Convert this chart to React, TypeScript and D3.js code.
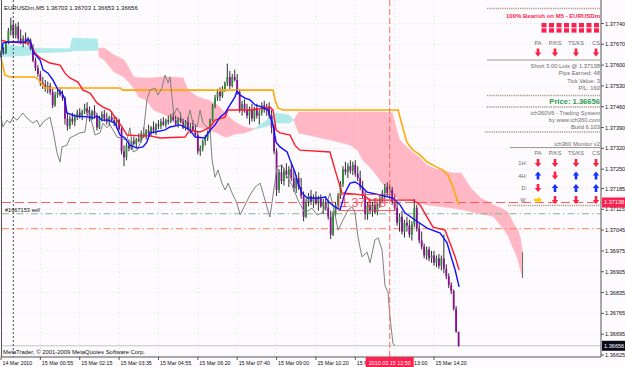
import React from 'react';
import * as d3 from 'd3';

// prices are stored in points above 1.36000 (price = 1.36 + v / 100000)
const PRICE_BASE = 1.36;

const candleOpen = [1635,1645,1640,1675,1715,1735,1700,1730,1690,1680,1690,1675,1685,1655,1615,1590,1570,1540,1535,1520,1530,1510,1465,1500,1510,1500,1490,1420,1395,1420,1410,1425,1440,1430,1445,1455,1440,1420,1445,1430,1390,1420,1435,1420,1410,1425,1415,1405,1415,1385,1310,1290,1330,1320,1345,1335,1350,1345,1370,1360,1380,1370,1390,1380,1400,1395,1410,1400,1415,1410,1425,1415,1400,1420,1410,1390,1410,1385,1395,1380,1365,1310,1320,1345,1355,1375,1415,1465,1490,1510,1495,1520,1540,1560,1530,1560,1550,1510,1450,1470,1450,1430,1450,1420,1455,1430,1440,1465,1450,1460,1430,1390,1310,1180,1240,1210,1245,1230,1250,1220,1185,1220,1190,1160,1090,1140,1160,1140,1155,1135,1150,1125,1140,1120,1090,1030,1100,1130,1160,1200,1250,1240,1260,1245,1265,1235,1220,1190,1160,1100,1130,1110,1130,1105,1135,1150,1170,1190,1170,1180,1140,1120,1070,1090,1040,1070,1060,1030,1065,1120,1050,1010,990,960,980,950,960,935,950,925,950,915,890,860,840,780,703];
const candleHigh = [1650,1660,1680,1725,1760,1750,1740,1745,1720,1700,1710,1695,1690,1670,1625,1600,1580,1560,1550,1545,1540,1520,1510,1520,1525,1515,1495,1440,1430,1440,1435,1450,1455,1450,1470,1475,1460,1450,1465,1440,1430,1445,1450,1440,1430,1445,1430,1425,1420,1390,1330,1340,1350,1355,1360,1355,1370,1380,1390,1385,1400,1395,1410,1405,1415,1420,1425,1420,1430,1435,1440,1430,1425,1440,1420,1415,1425,1405,1415,1400,1375,1330,1350,1365,1380,1420,1470,1500,1520,1525,1530,1545,1605,1580,1570,1585,1570,1520,1480,1485,1470,1460,1470,1460,1470,1450,1475,1480,1470,1475,1450,1400,1320,1250,1265,1255,1270,1260,1270,1245,1230,1240,1220,1175,1150,1170,1180,1165,1175,1160,1165,1150,1160,1145,1110,1110,1140,1170,1210,1260,1275,1270,1280,1275,1280,1260,1245,1210,1175,1140,1150,1140,1150,1140,1160,1180,1200,1205,1200,1190,1160,1140,1100,1110,1080,1090,1080,1075,1150,1130,1070,1040,1000,990,990,975,975,960,965,960,1030,930,900,870,845,790,703];
const candleLow = [1625,1635,1638,1670,1700,1690,1690,1680,1670,1660,1670,1665,1650,1610,1580,1560,1530,1520,1510,1505,1500,1455,1460,1490,1495,1480,1400,1380,1385,1400,1395,1415,1420,1415,1435,1430,1410,1415,1420,1380,1385,1410,1410,1400,1395,1410,1395,1390,1380,1300,1260,1280,1310,1315,1330,1320,1340,1340,1355,1350,1365,1360,1370,1365,1385,1385,1395,1390,1400,1405,1410,1395,1390,1405,1385,1380,1380,1370,1375,1360,1300,1295,1310,1330,1345,1370,1410,1455,1480,1480,1490,1510,1530,1520,1525,1545,1500,1440,1430,1440,1420,1400,1410,1410,1420,1400,1430,1440,1430,1420,1370,1300,1160,1170,1200,1195,1220,1190,1210,1175,1170,1180,1150,1075,1085,1125,1130,1120,1130,1110,1120,1100,1110,1080,1015,1025,1090,1120,1150,1190,1230,1220,1235,1230,1225,1210,1180,1150,1080,1080,1100,1090,1100,1095,1120,1140,1150,1160,1150,1130,1110,1060,1040,1030,1020,1040,1020,1010,1055,1040,1000,980,950,945,940,935,925,920,915,910,900,880,850,830,775,700,653];
const candleClose = [1645,1640,1675,1715,1735,1700,1730,1690,1680,1690,1675,1685,1655,1615,1590,1570,1540,1535,1520,1530,1510,1465,1500,1510,1500,1490,1420,1395,1420,1410,1425,1440,1430,1445,1455,1440,1420,1445,1430,1390,1420,1435,1420,1410,1425,1415,1405,1415,1385,1310,1290,1330,1320,1345,1335,1350,1345,1370,1360,1380,1370,1390,1380,1400,1395,1410,1400,1415,1410,1425,1415,1400,1420,1410,1390,1410,1385,1395,1380,1365,1310,1320,1345,1355,1375,1415,1465,1490,1510,1495,1520,1540,1560,1530,1560,1550,1510,1450,1470,1450,1430,1450,1420,1455,1430,1440,1465,1450,1460,1430,1390,1310,1180,1240,1210,1245,1230,1250,1220,1185,1220,1190,1160,1090,1140,1160,1140,1155,1135,1150,1125,1140,1120,1090,1030,1100,1130,1160,1200,1250,1240,1260,1245,1265,1235,1220,1190,1160,1100,1130,1110,1130,1105,1135,1150,1170,1190,1170,1180,1140,1120,1070,1090,1040,1070,1060,1030,1065,1120,1050,1010,990,960,980,950,960,935,950,925,950,915,890,860,840,780,703,656];

// indicator lines, read as [bar index, points]
const redLine: [number, number][] = [[0,1684],[2.8,1678],[11.8,1674],[13.8,1641],[15.9,1624],[19.9,1607],[24,1600],[26,1573],[28,1557],[31.3,1543],[33.3,1516],[36.2,1506],[39,1473],[41.5,1459],[44.3,1449],[47.2,1415],[49.2,1392],[51.2,1365],[56.5,1362],[60.6,1362],[64.6,1355],[74.8,1358],[76.8,1382],[80.9,1375],[82.9,1382],[85,1392],[87,1415],[91,1425],[92.3,1449],[101.2,1449],[107.3,1456],[109.3,1459],[110.6,1449],[111.8,1382],[113.4,1372],[117.5,1365],[119.5,1330],[121.5,1314],[133.7,1308],[135.8,1247],[138.6,1170],[147.2,1163],[150,1146],[167.5,1146],[170.3,1130],[173.2,1089],[175.6,1055],[180.5,1045],[182.5,1002],[184.6,955],[186.2,911]];
const blueLine: [number, number][] = [[0,1627],[0.8,1674],[2.8,1678],[9.8,1678],[11,1688],[12.2,1674],[13,1644],[15.9,1617],[17.1,1584],[19.1,1573],[21.1,1550],[23.2,1516],[24.8,1506],[26,1483],[26.8,1439],[30.1,1429],[36.2,1425],[37.4,1422],[39,1429],[41.1,1415],[43.5,1415],[46.3,1405],[48.4,1365],[50.4,1355],[52.4,1331],[55.3,1321],[57.7,1325],[59.3,1341],[60.6,1372],[62.6,1375],[66.7,1382],[68.7,1392],[72.8,1399],[76.8,1382],[78.9,1358],[82.9,1355],[85,1382],[87,1399],[89,1425],[91.1,1439],[93.1,1466],[95.1,1493],[95.9,1513],[97.2,1499],[99.2,1489],[101.2,1483],[103.3,1466],[106.1,1459],[108.5,1449],[110.6,1399],[111.8,1341],[113.4,1325],[116.3,1308],[117.5,1281],[119.5,1240],[120.7,1203],[122.4,1170],[124.4,1153],[129.7,1153],[131.7,1156],[133.7,1136],[135.8,1123],[137.8,1113],[139.8,1170],[141.9,1203],[143.9,1207],[145.9,1197],[148.8,1173],[154.1,1163],[159.3,1153],[162.2,1130],[164.2,1103],[168.3,1079],[173.2,1052],[178.5,1035],[181.3,1002],[182.5,968],[184.6,911],[186.2,854]];
const laggingLine: [number, number][] = [[0,1425],[0.8,1392],[2.4,1415],[3.7,1405],[4.9,1425],[6.5,1415],[8.9,1439],[10.6,1422],[13,1405],[14.6,1415],[15.9,1392],[17.1,1409],[19.9,1425],[21.1,1382],[22.8,1304],[24,1274],[24.8,1325],[26.8,1331],[28,1355],[32.1,1372],[34.1,1375],[35.4,1449],[37,1405],[38.2,1365],[40.2,1372],[41.5,1405],[43.1,1389],[44.3,1399],[45.5,1382],[47.2,1358],[51.2,1348],[52.4,1389],[53.7,1308],[55.3,1314],[57.7,1358],[59.3,1483],[60.6,1516],[62.6,1523],[63.8,1499],[65.4,1523],[66.7,1567],[67.9,1540],[68.7,1560],[69.5,1493],[70.3,1432],[71.5,1456],[72.8,1439],[74,1392],[75.6,1405],[76.8,1449],[78,1405],[79.7,1392],[80.9,1449],[82.1,1405],[83.7,1392],[85,1382],[85.8,1281],[87,1223],[88.2,1247],[89.8,1203],[91.1,1180],[92.3,1203],[93.9,1170],[95.9,1136],[97.2,1096],[99.2,1130],[101.2,1163],[103.3,1190],[105.3,1203],[106.5,1170],[108.1,1123],[109.3,1089],[110.6,1163],[112.2,1257],[114.2,1264],[116.3,1224],[118.3,1197],[120.7,1146],[123.6,1103],[126.4,1119],[128.5,1096],[130.5,1103],[132.5,1136],[133.7,1170],[135.8,1096],[137,1045],[139,1079],[141.1,1113],[142.7,1123],[143.9,1103],[145.1,1022],[146.7,955],[148.8,971],[150,935],[152,1012],[153.3,1019],[154.9,978],[156.1,857],[157.3,837],[158.1,753],[159.3,665],[160,656]];
const orangeLine: [number, number][] = [[0,1624],[1.6,1567],[3.7,1560],[13.8,1560],[15,1553],[16.3,1540],[17.9,1523],[48.4,1523],[49.6,1516],[110.6,1516],[111.4,1483],[112.6,1456],[114.6,1449],[161.4,1449],[163,1399],[165,1340],[167.5,1314],[170.3,1298],[173.2,1274],[177.2,1257],[179.7,1247],[181.7,1230],[183.7,1190],[185.8,1136],[186.4,1130]];
// cloud: [bar, span A, span B]
const cloud: [number, number, number][] = [[0,1668,1627],[12,1661,1634],[14,1657,1641],[28,1655,1645],[29,1691,1648],[39,1688,1650],[40,1627,1657],[42,1617,1657],[46,1577,1634],[50,1560,1617],[54,1523,1560],[56,1493,1557],[59,1483,1557],[62,1449,1557],[65,1439,1560],[69,1425,1560],[74,1412,1557],[76,1405,1516],[80,1392,1493],[84,1382,1483],[88,1372,1466],[90,1362,1449],[92,1358,1432],[95,1368,1409],[99,1372,1392],[103,1385,1385],[107,1409,1392],[112,1439,1405],[117,1432,1405],[119,1415,1415],[121,1372,1442],[134,1348,1442],[142,1331,1442],[145,1314,1442],[147,1281,1442],[151,1247,1442],[155,1203,1442],[159,1170,1439],[162,1146,1348],[167,1146,1308],[170,1136,1290],[173,1130,1264],[177,1126,1250],[184,1119,1237],[187,1115,1237],[191,1107,1186],[195,1099,1153],[200,1092,1130],[203,1062,1120],[206,1029,1106],[208,988,1072],[210,951,1045],[211,918,1022],[212,884,971]];

const priceTicks = [1.3774,1.3767,1.376,1.3753,1.3746,1.3739,1.3732,1.3725,1.37185,1.37115,1.37045,1.36975,1.36905,1.36835,1.36765,1.36695,1.36625];
const timeTickBars = [0,16,32,48,64,80,96,112,128,144,160,176];
const timeTickLabels = ['14 Mar 2010','15 Mar 00:55','15 Mar 02:15','15 Mar 03:35','15 Mar 04:55','15 Mar 06:20','15 Mar 07:40','15 Mar 09:00','15 Mar 10:20','15 Mar 11:40','15 Mar 13:00','15 Mar 14:20'];

const orderPrice = 1.37138;
const tpPrice = 1.371;
const slPrice = 1.3705;
const bidPrice = 1.36656;
const markerBar = 5;
const cursorBar = 158;

const headSignals = ['d','d','d','d'];
const monitorRows = ['1H:','4H:','D:','W:'];
const monitorSignals = [['d','d','d','d'],['u','d','u','u'],['d','u','u','u'],['r','d','d','d']];
const signalCols = ['PA','P/KS','TS/KS','CS'];
const tradeInfo = ['Short 3.00 Lots @ 1.37138','Pips Earned: 48','Tick Value: 3','P/L: 160'];
const systemInfo = ['ich360V6 - Trading System','by www.ich360.com','Build 6.103'];

const FONT = '"Liberation Sans", Arial, sans-serif';

function Arrow({ cx, cy, dir }: { cx: number; cy: number; dir: string }) {
  const down = `M${cx - 1.3},${cy - 4}H${cx + 1.3}V${cy}H${cx + 3.2}L${cx},${cy + 4}L${cx - 3.2},${cy}H${cx - 1.3}Z`;
  const up = `M${cx - 1.3},${cy + 4}H${cx + 1.3}V${cy}H${cx + 3.2}L${cx},${cy - 4}L${cx - 3.2},${cy}H${cx - 1.3}Z`;
  const right = `M${cx - 4},${cy - 1.3}V${cy + 1.3}H${cx}V${cy + 3.2}L${cx + 4},${cy}L${cx},${cy - 3.2}V${cy - 1.3}Z`;
  const d = dir === 'd' ? down : dir === 'u' ? up : right;
  const fill = dir === 'd' ? '#ff1f40' : dir === 'u' ? '#1530ff' : '#ffcc00';
  return <path d={d} fill={fill} />;
}

export default function App() {
  const W = 625, H = 367;
  const plotR = 601, plotB = 357;
  const x = d3.scaleLinear().domain([0, 186]).range([1, 458.6]);
  const y = d3.scaleLinear().domain([1.36625, 1.3774]).range([355, 23.5]);
  const pv = (v: number) => PRICE_BASE + v / 1e5;
  const line = d3.line<[number, number]>().x(d => x(d[0])).y(d => y(pv(d[1])));

  // cloud polygons
  const polys: { pts: [number, number][]; bull: boolean }[] = [];
  for (let i = 0; i < cloud.length - 1; i++) {
    const [b0, a0, s0] = cloud[i];
    const [b1, a1, s1] = cloud[i + 1];
    const d0 = a0 - s0, d1 = a1 - s1;
    if (d0 * d1 < 0) {
      const t = d0 / (d0 - d1);
      const bm = b0 + t * (b1 - b0);
      const vm = a0 + t * (a1 - a0);
      polys.push({ pts: [[b0, a0], [bm, vm], [b0, s0]], bull: d0 > 0 });
      polys.push({ pts: [[bm, vm], [b1, a1], [b1, s1]], bull: d1 > 0 });
    } else {
      polys.push({ pts: [[b0, a0], [b1, a1], [b1, s1], [b0, s0]], bull: d0 + d1 > 0 });
    }
  }
  const lastCloud = cloud[cloud.length - 1];

  const arrowX = [538, 555, 576, 596];
  const rowY = [163, 175.5, 188, 200];

  const dotted = { stroke: '#a89a8a', strokeWidth: 1.4, strokeDasharray: '1.2 1' };

  return (
    <svg width={W} height={H} style={{ position: 'fixed', left: 0, top: 0, background: '#fdfbfd' }} fontFamily={FONT}>
      <rect x={0} y={0} width={W} height={H} fill="#fdfbfd" />
      {/* grid */}
      <g stroke="#cfcfd4" strokeWidth={0.6} strokeDasharray="1 3">
        {priceTicks.map((p, i) => <line key={'gh' + i} x1={2} x2={plotR} y1={y(p)} y2={y(p)} />)}
        {timeTickBars.map((b, i) => <line key={'gv' + i} x1={x(b)} x2={x(b)} y1={0} y2={plotB} />)}
      </g>
      {/* cloud */}
      {polys.map((p, i) => (
        <polygon key={'c' + i} points={p.pts.map(d => `${x(d[0])},${y(pv(d[1]))}`).join(' ')} fill={p.bull ? '#aeeaea' : '#ffb7c5'} stroke={p.bull ? '#aeeaea' : '#ffb7c5'} strokeWidth={0.6} />
      ))}
      <line x1={x(lastCloud[0])} x2={x(lastCloud[0])} y1={y(pv(lastCloud[2]))} y2={y(pv(lastCloud[1]))} stroke="#6a6a6a" strokeWidth={1} />
      {/* horizontal levels */}
      <line x1={2} x2={plotR} y1={y(orderPrice)} y2={y(orderPrice)} stroke="#ff5a5a" strokeWidth={1} strokeDasharray="9 4" />
      <line x1={2} x2={plotR} y1={y(tpPrice)} y2={y(tpPrice)} stroke="#7fb88a" strokeWidth={1} strokeDasharray="7 3 1.5 3" />
      <line x1={2} x2={plotR} y1={y(slPrice)} y2={y(slPrice)} stroke="#ff8050" strokeWidth={1} strokeDasharray="7 3 1.5 3" />
      <line x1={2} x2={plotR} y1={y(bidPrice)} y2={y(bidPrice)} stroke="#b8b8b8" strokeWidth={0.8} />
      {/* candles */}
      {candleClose.map((c, i) => {
        const o = candleOpen[i];
        const cx = x(i);
        const yo = y(pv(o)), yc = y(pv(c));
        const top = Math.min(yo, yc), h = Math.max(0.8, Math.abs(yo - yc));
        return (
          <g key={'k' + i}>
            <line x1={cx} x2={cx} y1={y(pv(candleHigh[i]))} y2={y(pv(candleLow[i]))} stroke="#1a1a1a" strokeWidth={0.9} />
            <rect x={cx - 0.9} y={top} width={1.8} height={h} fill={c >= o ? '#2f8a3a' : '#8a1090'} />
          </g>
        );
      })}
      {/* indicator lines */}
      <path d={line(orangeLine) || ''} fill="none" stroke="#ffa200" strokeWidth={1.6} />
      <path d={line(orangeLine) || ''} fill="none" stroke="#ffd84a" strokeWidth={0.6} strokeDasharray="1 2" />
      <path d={line(laggingLine) || ''} fill="none" stroke="#808080" strokeWidth={1} />
      <path d={line(redLine) || ''} fill="none" stroke="#ff1a2a" strokeWidth={1.4} />
      <path d={line(blueLine) || ''} fill="none" stroke="#1010ff" strokeWidth={1.4} />
      {/* vertical lines */}
      <line x1={x(markerBar)} x2={x(markerBar)} y1={0} y2={plotB} stroke="#202020" strokeWidth={0.8} strokeDasharray="2 2" />
      <line x1={x(cursorBar)} x2={x(cursorBar)} y1={0} y2={plotB} stroke="#ff6a5a" strokeWidth={1} strokeDasharray="6 3" />
      {/* price label object */}
      <rect x={339} y={y(orderPrice) - 8} width={56} height={16} fill="none" stroke="#ff3a50" strokeWidth={0.8} />
      <text x={341} y={y(orderPrice) + 5} fontSize={12.5} fill="#ff3a55" fillOpacity={0.85}>{orderPrice.toFixed(5)}</text>
      {/* order label */}
      <text x={5} y={211.5} fontSize={5.6} fill="#111">#1667153 sell</text>
      {/* frame */}
      <line x1={1.5} x2={1.5} y1={0} y2={plotB} stroke="#555" strokeWidth={1} />
      <line x1={1.5} x2={plotR} y1={plotB} y2={plotB} stroke="#555" strokeWidth={1} />
      <line x1={plotR} x2={plotR} y1={0} y2={plotB} stroke="#555" strokeWidth={1} />
      {/* header */}
      <text x={4} y={9.5} fontSize={6} fill="#111">EURUSDm,M5  1.36703 1.36703 1.36653 1.36656</text>
      <text x={3} y={354} fontSize={5.9} fill="#111">MetaTrader, © 2001-2009 MetaQuotes Software Corp.</text>
      {/* price axis */}
      {priceTicks.map((p, i) => (
        <g key={'pt' + i}>
          <line x1={plotR} x2={plotR + 3} y1={y(p)} y2={y(p)} stroke="#333" strokeWidth={0.8} />
          <text x={605} y={y(p) + 2} fontSize={5.6} fill="#111">{p.toFixed(5)}</text>
        </g>
      ))}
      <rect x={602} y={y(orderPrice) - 5} width={23} height={10} fill="#ff2050" />
      <text x={604} y={y(orderPrice) + 2} fontSize={5.6} fill="#fff">{orderPrice.toFixed(5)}</text>
      <rect x={602} y={y(bidPrice) - 5} width={23} height={10} fill="#0a0a1a" />
      <text x={604} y={y(bidPrice) + 2} fontSize={5.6} fill="#fff">{bidPrice.toFixed(5)}</text>
      {/* time axis */}
      {timeTickBars.map((b, i) => (
        <g key={'tt' + i}>
          <line x1={x(b)} x2={x(b)} y1={plotB} y2={plotB + 3} stroke="#333" strokeWidth={0.8} />
          <text x={x(b) + 1.5} y={365} fontSize={5.3} fill="#111">{timeTickLabels[i]}</text>
        </g>
      ))}
      <rect x={x(cursorBar) - 24} y={plotB} width={48} height={10} fill="#ff2050" />
      <text x={x(cursorBar)} y={365} fontSize={5.4} fill="#fff" textAnchor="middle">2010.03.15 12:50</text>
      {/* right panel */}
      <line x1={487} x2={600} y1={8.5} y2={8.5} {...dotted} />
      <text x={600} y={18} fontSize={6} fontWeight="bold" fill="#ff1f4f" textAnchor="end">100% Bearish on M5 - EURUSDm</text>
      {[0, 1].map(r => d3.range(8).map(k => (
        <rect key={'sq' + r + k} x={541.5 + k * 7.5} y={23 + r * 5.3} width={5} height={4.3} fill="#ff1f4f" />
      )))}
      {signalCols.map((s, i) => <text key={'hc' + i} x={arrowX[i]} y={45} fontSize={5.6} fill="#6d6d6d" textAnchor="middle">{s}</text>)}
      {headSignals.map((s, i) => <Arrow key={'ha' + i} cx={arrowX[i]} cy={52.5} dir={s} />)}
      <line x1={487} x2={600} y1={60} y2={60} stroke="#8c8070" strokeWidth={0.8} />
      {tradeInfo.map((t, i) => <text key={'ti' + i} x={600} y={68 + i * 7.3} fontSize={5.8} fill="#6d6d6d" textAnchor="end">{t}</text>)}
      <line x1={487} x2={600} y1={95.5} y2={95.5} {...dotted} />
      <text x={600} y={103.5} fontSize={7.6} fontWeight="bold" fill="#2e9a4e" textAnchor="end">Price: 1.36656</text>
      <line x1={487} x2={600} y1={107} y2={107} {...dotted} />
      {systemInfo.map((t, i) => <text key={'si' + i} x={600} y={115 + i * 7} fontSize={5.8} fill="#6d6d6d" textAnchor="end">{t}</text>)}
      <line x1={485} x2={600} y1={132} y2={132} {...dotted} />
      <text x={600} y={146} fontSize={5.8} fill="#6d6d6d" textAnchor="end">ich360 Monitor v2</text>
      <line x1={510} x2={600} y1={147.5} y2={147.5} stroke="#8c8070" strokeWidth={0.8} />
      {signalCols.map((s, i) => <text key={'mc' + i} x={arrowX[i]} y={155} fontSize={5.6} fill="#6d6d6d" textAnchor="middle">{s}</text>)}
      {monitorRows.map((r, ri) => (
        <g key={'mr' + ri}>
          <text x={527} y={rowY[ri] + 2} fontSize={5.6} fill="#6d6d6d" textAnchor="end">{r}</text>
          {monitorSignals[ri].map((s, i) => <Arrow key={'ma' + ri + i} cx={arrowX[i]} cy={rowY[ri]} dir={s} />)}
        </g>
      ))}
      <line x1={508} x2={600} y1={205.5} y2={205.5} {...dotted} />
    </svg>
  );
}
